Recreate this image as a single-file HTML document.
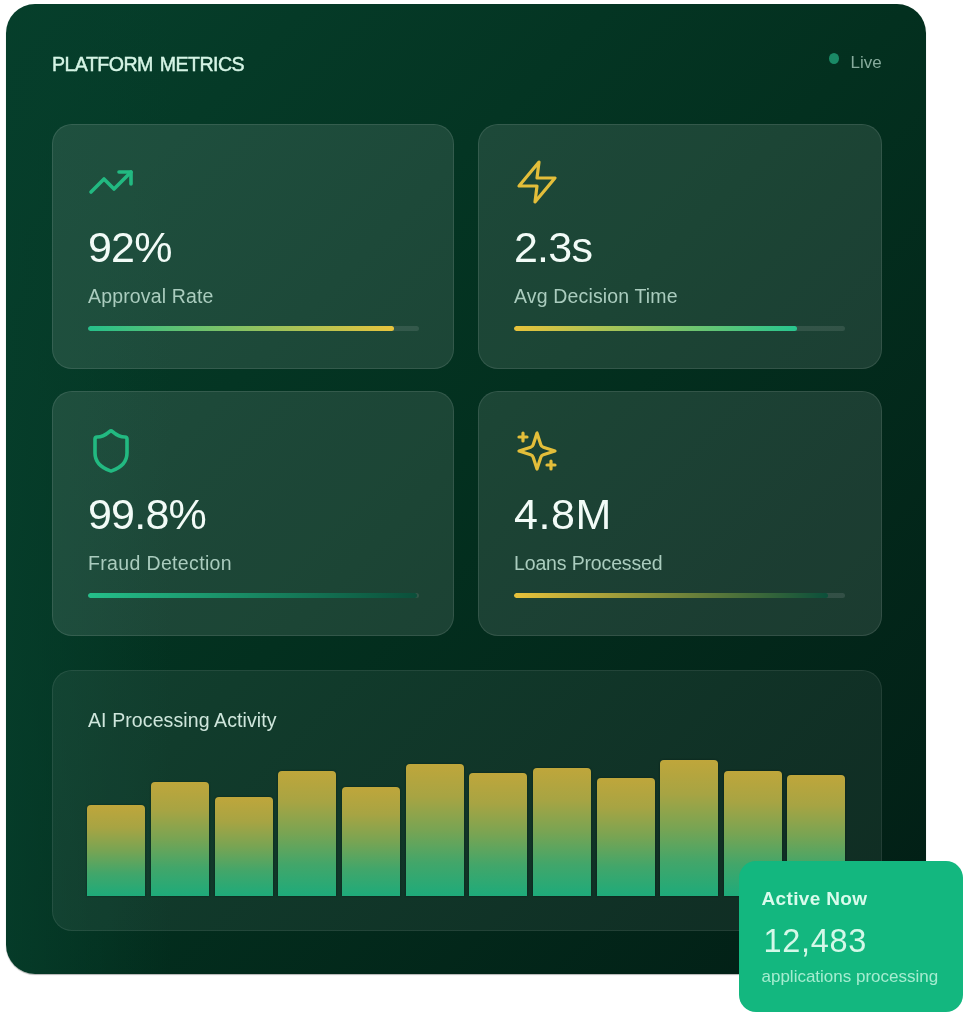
<!DOCTYPE html>
<html lang="en">
<head>
<meta charset="utf-8">
<title>Platform Metrics</title>
<style>
*{box-sizing:border-box;margin:0;padding:0}
html,body{width:968px;height:1024px;background:#fff;overflow:hidden}
body{font-family:"Liberation Sans",sans-serif;position:relative;color:#fff}
.panel{position:absolute;left:6px;top:4px;width:920px;height:970px;border-radius:29px;box-shadow:0 1px 1px rgba(0,0,0,0.3);
 background:linear-gradient(90deg,rgba(6,62,43,0.8) 0%,rgba(6,62,43,0) 18%),linear-gradient(135deg,#063f2b 0%,#03301f 48%,#021e15 100%);}
.title{position:absolute;left:52px;top:52px;font-size:19.6px;font-weight:400;letter-spacing:-0.55px;word-spacing:2px;-webkit-text-stroke:0.45px #d6f5e6;color:#d6f5e6;line-height:24px;white-space:nowrap}
.live{position:absolute;left:850.5px;top:51.5px;font-size:17px;color:#86ab9c;line-height:22px}
.dot{position:absolute;left:829px;top:53px;width:10px;height:11px;border-radius:50%;background:#1a8a66}
.card{position:absolute;width:402px;height:245px;border-radius:20px;background:rgba(255,255,255,0.1);border:1px solid rgba(255,255,255,0.1)}
.card svg{position:absolute;left:33.5px;top:33px;width:48px;height:48px;fill:none;stroke-width:1.8;stroke-linecap:round;stroke-linejoin:round}
.val{position:absolute;left:35px;top:98px;font-size:43px;letter-spacing:-0.8px;line-height:48px;color:#f2fbf7;white-space:nowrap}
.lbl{position:absolute;left:35px;top:159px;font-size:19.5px;letter-spacing:0.15px;line-height:24px;color:#aaccbe;white-space:nowrap}
.track{position:absolute;left:35px;top:200.5px;width:331px;height:5px;border-radius:3px;background:rgba(255,255,255,0.1);overflow:hidden}
.fill{height:100%;border-radius:3px}
.chart{position:absolute;left:52px;top:670px;width:829.5px;height:261px;border-radius:20px;background:rgba(255,255,255,0.06);border:1px solid rgba(255,255,255,0.08)}
.ctitle{position:absolute;left:35px;top:37px;font-size:19.5px;letter-spacing:0.1px;line-height:24px;color:#cfe6dc;white-space:nowrap}
.bar{position:absolute;bottom:34.5px;width:58px;border-radius:4px 4px 0 0;background:linear-gradient(180deg,#bfa63b 0%,#a7a443 25%,#78a453 50%,#42a66a 75%,#1eab7a 100%);box-shadow:0 0 2px rgba(0,20,12,0.55)}
.active{position:absolute;left:739px;top:861px;width:224px;height:151px;border-radius:17px;background:#13b77f}
.a1{position:absolute;left:22.5px;top:26px;font-size:19px;letter-spacing:0.35px;font-weight:700;line-height:24px;color:#d9fbec;white-space:nowrap}
.a2{position:absolute;left:24.5px;top:61px;font-size:32.5px;letter-spacing:0.7px;line-height:38px;color:#d4f8e8;white-space:nowrap}
.a3{position:absolute;left:22.5px;top:104.5px;font-size:17px;line-height:22px;color:#a5ecd0;white-space:nowrap}
</style>
</head>
<body>
<div class="panel"></div>
<div class="title">PLATFORM METRICS</div>
<div class="dot"></div><div class="live">Live</div>

<div class="card" style="left:52px;top:124px">
 <svg viewBox="0 0 24 24" stroke="#22b981"><polyline points="22 7 13.5 15.5 8.5 10.5 2 17"/><polyline points="16 7 22 7 22 13"/></svg>
 <div class="val">92%</div><div class="lbl">Approval Rate</div>
 <div class="track"><div class="fill" style="width:92.3%;background:linear-gradient(90deg,#25c08a,#e8c43d)"></div></div>
</div>
<div class="card" style="left:478px;top:124px;width:403.5px">
 <svg style="stroke-width:1.6" viewBox="0 0 24 24" stroke="#e3be3a"><polygon points="13 2 3 14 12 14 11 22 21 10 12 10 13 2"/></svg>
 <div class="val">2.3s</div><div class="lbl">Avg Decision Time</div>
 <div class="track"><div class="fill" style="width:85.5%;background:linear-gradient(90deg,#e8c23a,#28c68f)"></div></div>
</div>
<div class="card" style="left:52px;top:391px">
 <svg style="top:35px" viewBox="0 0 24 24" stroke="#22b981"><path d="M20 13c0 5-3.5 7.500-7.660 8.950a1 1 0 0 1-.670-.010C7.500 20.500 4 18 4 13V6a1 1 0 0 1 1-1c2 0 4.500-1.200 6.240-2.720a1.170 1.170 0 0 1 1.520 0C14.510 3.810 17 5 19 5a1 1 0 0 1 1 1z"/></svg>
 <div class="val">99.8%</div><div class="lbl" style="letter-spacing:0.35px">Fraud Detection</div>
 <div class="track"><div class="fill" style="width:99.4%;background:linear-gradient(90deg,#25c08a,#0b4f3a)"></div></div>
</div>
<div class="card" style="left:478px;top:391px;width:403.5px">
 <svg style="top:35px;stroke-width:1.6" viewBox="0 0 24 24" stroke="#e3be3a"><path d="m12 3-1.912 5.813a2 2 0 0 1-1.275 1.275L3 12l5.813 1.912a2 2 0 0 1 1.275 1.275L12 21l1.912-5.813a2 2 0 0 1 1.275-1.275L21 12l-5.813-1.912a2 2 0 0 1-1.275-1.275L12 3Z"/><path d="M5 3v4"/><path d="M19 17v4"/><path d="M3 5h4"/><path d="M17 19h4"/></svg>
 <div class="val" style="letter-spacing:0.6px">4.8M</div><div class="lbl" style="letter-spacing:-0.15px">Loans Processed</div>
 <div class="track"><div class="fill" style="width:95%;background:linear-gradient(90deg,#e8c23a,#0b4f3a)"></div></div>
</div>

<div class="chart">
 <div class="ctitle">AI Processing Activity</div>
 <div class="bar" style="left:34.3px;height:90.2px"></div>
 <div class="bar" style="left:97.9px;height:113.7px"></div>
 <div class="bar" style="left:161.6px;height:98.5px"></div>
 <div class="bar" style="left:225.2px;height:124.8px"></div>
 <div class="bar" style="left:288.9px;height:108.2px"></div>
 <div class="bar" style="left:352.6px;height:131.8px"></div>
 <div class="bar" style="left:416.2px;height:122.1px"></div>
 <div class="bar" style="left:479.9px;height:127.6px"></div>
 <div class="bar" style="left:543.5px;height:117.9px"></div>
 <div class="bar" style="left:607.1px;height:135.9px"></div>
 <div class="bar" style="left:670.8px;height:124.8px"></div>
 <div class="bar" style="left:734.4px;height:120.7px"></div>
</div>

<div class="active">
 <div class="a1">Active Now</div>
 <div class="a2">12,483</div>
 <div class="a3">applications processing</div>
</div>
</body>
</html>
